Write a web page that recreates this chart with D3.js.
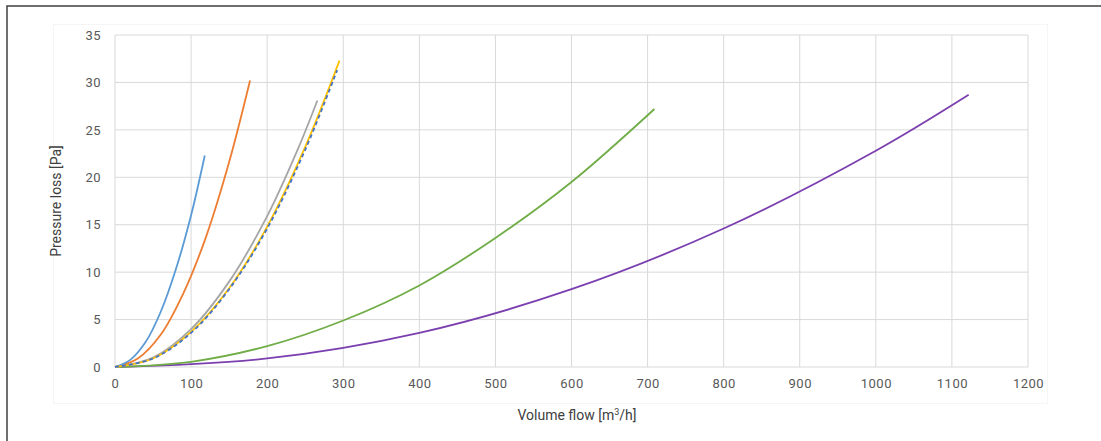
<!DOCTYPE html>
<html>
<head>
<meta charset="utf-8">
<script src="https://cdnjs.cloudflare.com/ajax/libs/d3/7.8.5/d3.min.js"></script>
<style>
  body { margin: 0; background: #fff; }
  text { font-family: Roboto, "Noto Sans", sans-serif; }
</style>
</head>
<body>
<script>
// flow [m3/h] and pressure loss [Pa]
var blueQ = [0, 20, 40, 60, 80, 100, 118];
var blueP = [0, 0.75, 2.6, 5.8, 10.3, 16.0, 22.3];

var orangeQ = [0, 30, 60, 90, 120, 150, 177.5];
var orangeP = [0, 0.9, 3.4, 7.8, 13.8, 21.6, 30.2];

var grayQ = [0, 50, 100, 150, 200, 240, 266];
var grayP = [0, 1.0, 4.0, 9.0, 15.9, 22.9, 28.1];

var yellowQ = [0, 50, 100, 150, 200, 250, 295];
var yellowP = [0, 0.9, 3.7, 8.3, 14.8, 23.2, 32.3];

var navyQ = [0, 50, 100, 150, 200, 250, 292];
var navyP = [0, 0.9, 3.6, 8.2, 14.6, 22.9, 31.3];

var greenQ = [0, 100, 200, 300, 400, 500, 600, 709];
var greenP = [0, 0.55, 2.2, 4.9, 8.6, 13.6, 19.5, 27.2];

var purpleQ = [0, 200, 400, 600, 800, 1000, 1122];
var purpleP = [0, 0.9, 3.6, 8.2, 14.6, 22.8, 28.7];

var xTicks = [0, 100, 200, 300, 400, 500, 600, 700, 800, 900, 1000, 1100, 1200];
var yTicks = [0, 5, 10, 15, 20, 25, 30, 35];

var width = 1101, height = 441;
var pLeft = 115, pRight = 1028, pTop = 35, pBottom = 367;

var svg = d3.select("body").append("svg").attr("width", width).attr("height", height);

// outer frame and faint chart area
svg.append("rect").attr("x", 7).attr("y", 6).attr("width", 1200).attr("height", 500)
    .attr("fill", "none").attr("stroke", "#404040").attr("stroke-width", 1.5);
svg.append("rect").attr("x", 53.5).attr("y", 24.5).attr("width", 994).attr("height", 379)
    .attr("fill", "none").attr("stroke", "#f5f5f5").attr("stroke-width", 1);

var x = d3.scaleLinear().domain([0, 1200]).range([pLeft, pRight]);
var y = d3.scaleLinear().domain([0, 35]).range([pBottom, pTop]);

// grid
svg.append("g").selectAll("line").data(xTicks).enter().append("line")
    .attr("x1", function (d) { return x(d); }).attr("x2", function (d) { return x(d); })
    .attr("y1", pTop).attr("y2", pBottom)
    .attr("stroke", "#d9d9d9").attr("stroke-width", 1);
svg.append("g").selectAll("line").data(yTicks).enter().append("line")
    .attr("x1", pLeft).attr("x2", pRight)
    .attr("y1", function (d) { return y(d); }).attr("y2", function (d) { return y(d); })
    .attr("stroke", "#d9d9d9").attr("stroke-width", 1);

// axes labels
var xAxis = d3.axisBottom(x).tickValues(xTicks).tickFormat(d3.format("d")).tickSize(0).tickPadding(10);
var gx = svg.append("g").attr("transform", "translate(0," + pBottom + ")").call(xAxis);
var yAxis = d3.axisLeft(y).tickValues(yTicks).tickFormat(d3.format("d")).tickSize(0).tickPadding(14);
var gy = svg.append("g").attr("transform", "translate(" + pLeft + ",0)").call(yAxis);
[gx, gy].forEach(function (g) {
    g.select(".domain").remove();
    g.selectAll("text").attr("fill", "#595959").style("font-size", "13px")
        .style("font-family", "Roboto, sans-serif").style("letter-spacing", "0.5px");
});
gx.selectAll("text").attr("dy", "0.85em");

svg.append("text").attr("x", 577).attr("y", 420).attr("text-anchor", "middle")
    .attr("fill", "#404040").style("font-size", "14px")
    .html('Volume flow [m<tspan dy="-5" style="font-size:9px">3</tspan><tspan dy="5">/h]</tspan>');
svg.append("text").attr("transform", "translate(61," + ((pTop + pBottom) / 2) + ") rotate(-90)")
    .attr("text-anchor", "middle").attr("fill", "#404040").style("font-size", "14px")
    .text("Pressure loss [Pa]");

var line = d3.line()
    .x(function (d) { return x(d[0]); })
    .y(function (d) { return y(d[1]); })
    .curve(d3.curveCatmullRom.alpha(0.5));

function series(qs, ps) {
    return qs.map(function (q, i) { return [q, ps[i]]; });
}

var lines = [
    { d: series(purpleQ, purpleP), c: "#7b3fb0" },
    { d: series(greenQ, greenP), c: "#70ad47" },
    { d: series(grayQ, grayP), c: "#a5a5a5" },
    { d: series(orangeQ, orangeP), c: "#ed7d31" },
    { d: series(blueQ, blueP), c: "#5b9bd5" },
    { d: series(yellowQ, yellowP), c: "#ffc000" },
    { d: series(navyQ, navyP), c: "#4472c4", dash: "4,3" }
];

svg.append("g").selectAll("path").data(lines).enter().append("path")
    .attr("d", function (s) { return line(s.d); })
    .attr("fill", "none")
    .attr("stroke", function (s) { return s.c; })
    .attr("stroke-width", 1.8)
    .attr("stroke-dasharray", function (s) { return s.dash || null; });
</script>
</body>
</html>
